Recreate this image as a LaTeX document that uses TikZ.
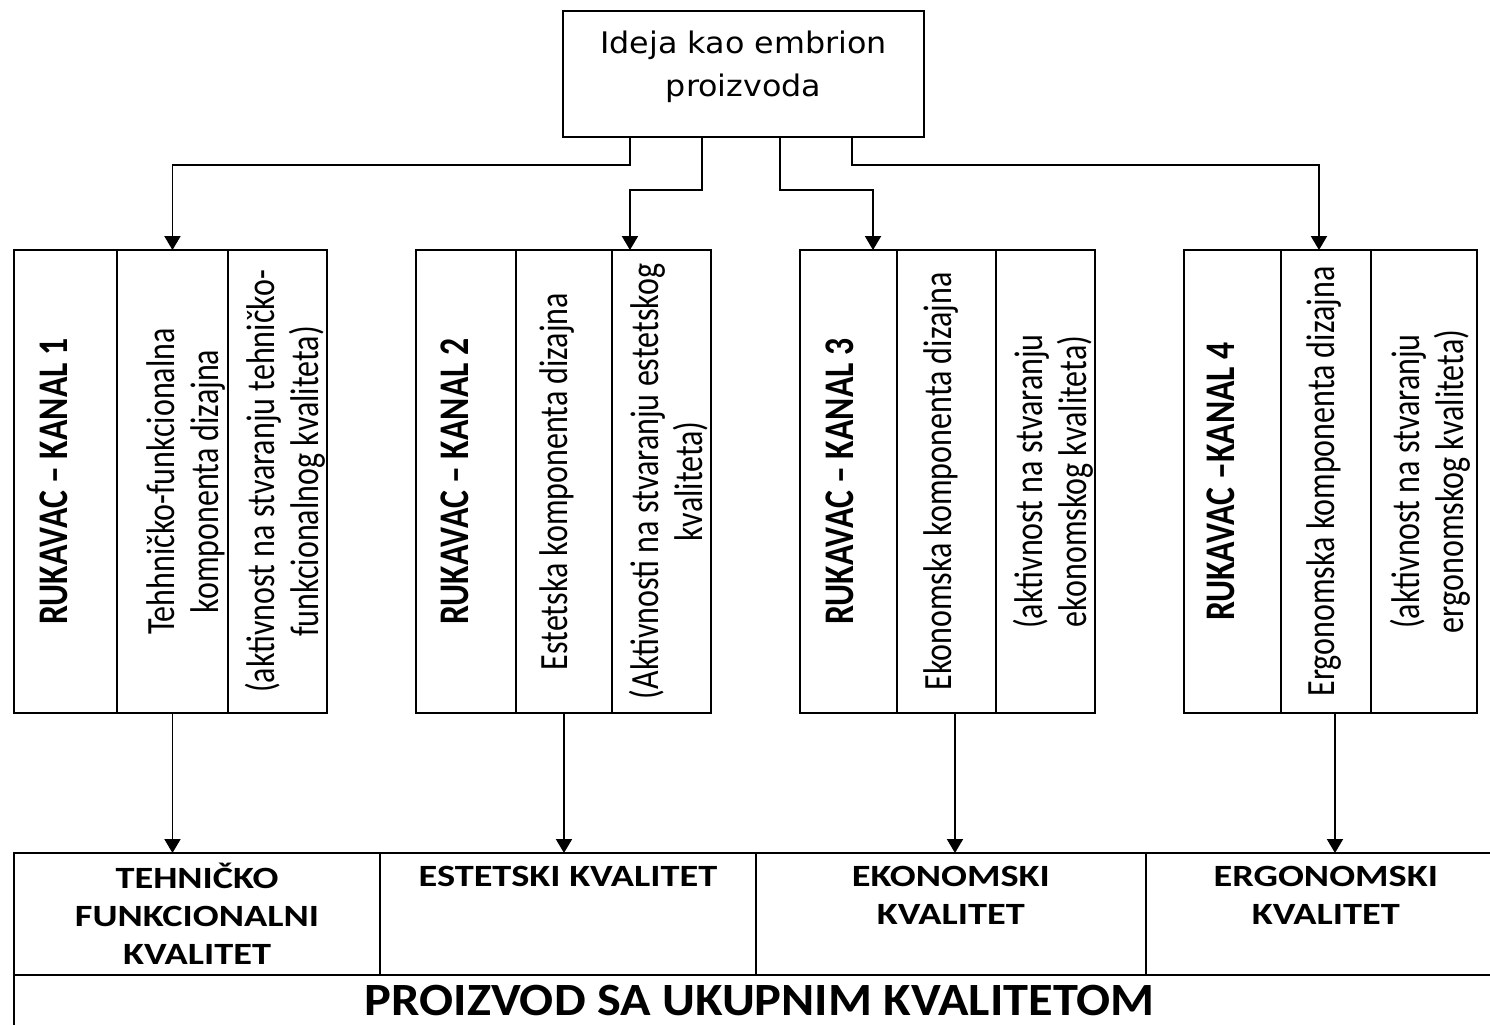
\documentclass[tikz,border=0pt]{standalone}
\usepackage{fontspec}
\usepackage{graphicx}
\setmainfont{Carlito}
\newfontfamily\topfont{DejaVu Sans}[FakeStretch=1.07]
\newfontfamily\qfont{Carlito}[FakeStretch=1.24]
\newfontfamily\bigfont{Carlito}[FakeStretch=1.09]
\newfontfamily\vfont{Carlito}[FakeStretch=0.8]
\usetikzlibrary{positioning,calc,arrows.meta}
\newcommand{\vtext}[2][0pt]{\makebox[0pt]{\hspace*{#1}\rotatebox{90}{\begin{tabular}{@{}c@{}}#2\end{tabular}}}}

\begin{document}
\begin{tikzpicture}[x=0.02cm, y=-0.02cm,
line width=1.1pt,
every node/.style={outer sep=0pt},
idea/.style={rectangle, draw, minimum width=7.22cm, minimum height=2.52cm, align=center, font={\topfont\fontsize{16.9pt}{24.4pt}\selectfont}},
cell/.style={rectangle, draw, minimum height=9.26cm, inner sep=0pt, font={\vfont\fontsize{22.8pt}{25pt}\selectfont}},
chan/.style={cell, font={\vfont\bfseries\fontsize{24pt}{25pt}\selectfont}},
quality/.style={rectangle, draw, minimum height=2.44cm, align=center, font={\qfont\bfseries\fontsize{17.6pt}{21.7pt}\selectfont}},
total/.style={rectangle, draw, minimum width=29.84cm, minimum height=1.2cm, align=center, font={\bigfont\bfseries\fontsize{26.3pt}{30pt}\selectfont}},
link/.style={-{Triangle[length=0.28cm, width=0.32cm]}}
]
\useasboundingbox (0,0) rectangle (1490,1024);
\clip (0,0) rectangle (1490,1024);

\node [idea] (idea) at (743.5,74) {Ideja kao embrion\\proizvoda\\[-13pt]\mbox{}};

\node [chan, minimum width=2.06cm] (k1a) at (65.5,481.5) {\vtext[-0.26cm]{RUKAVAC – KANAL 1}};
\node [cell, minimum width=2.22cm] (k1b) [right=0pt of k1a] {\vtext[0.6cm]{Tehhničko-funkcionalna\\komponenta dizajna}};
\node [cell, minimum width=1.98cm] (k1c) [right=0pt of k1b] {\vtext[0.42cm]{(aktivnost na stvaranju tehničko-\\funkcionalnog kvaliteta)}};

\node [chan, minimum width=2.0cm] (k2a) at (466,481.5) {\vtext[-0.26cm]{RUKAVAC – KANAL 2}};
\node [cell, minimum width=1.92cm] (k2b) [right=0pt of k2a] {\vtext[-0.2cm]{Estetska komponenta dizajna}};
\node [cell, minimum width=1.98cm] (k2c) [right=0pt of k2b] {\vtext[0.42cm]{(Aktivnosti na stvaranju estetskog\\kvaliteta)}};

\node [chan, minimum width=1.94cm] (k3a) at (848.5,481.5) {\vtext[-0.14cm]{RUKAVAC – KANAL 3}};
\node [cell, minimum width=1.98cm] (k3b) [right=0pt of k3a] {\vtext[-0.14cm]{Ekonomska komponenta dizajna}};
\node [cell, minimum width=1.98cm] (k3c) [right=0pt of k3b] {\vtext[0.42cm]{(aktivnost na stvaranju\\ekonomskog kvaliteta)}};

\node [chan, minimum width=1.94cm] (k4a) at (1232.5,481.5) {\vtext[-0.26cm]{RUKAVAC –KANAL 4}};
\node [cell, minimum width=1.8cm] (k4b) [right=0pt of k4a] {\vtext{Ergonomska komponenta dizajna}};
\node [cell, minimum width=2.12cm] (k4c) [right=0pt of k4b] {\vtext[0.36cm]{(aktivnost na stvaranju\\ergonomskog kvaliteta)}};

\node [quality, minimum width=7.32cm] (q1) at (197,914) {TEHNIČKO\\FUNKCIONALNI\\KVALITET};
\node [quality, minimum width=7.52cm] (q2) [right=0pt of q1] {ESTETSKI KVALITET\\\mbox{}\\\mbox{}};
\node [quality, minimum width=7.8cm] (q3) [right=0pt of q2] {EKONOMSKI\\KVALITET\\\mbox{}};
\node [quality, minimum width=7.2cm] (q4) [right=0pt of q3] {ERGONOMSKI\\KVALITET\\\mbox{}};

\node [total, anchor=north west] (total) at (q1.south west) {PROIZVOD SA UKUPNIM KVALITETOM\\[-24.3pt]\mbox{}};

\draw [link] ($(idea.south)+(-113.5,0)$) -- ++(0,28) -| (k1b.north);
\draw [link] ($(idea.south)+(-41.5,0)$) -- ++(0,53) -| ($(k2c.north)+(-31.5,0)$);
\draw [link] ($(idea.south)+(36.5,0)$) -- ++(0,53) -| ($(k3a.north)+(24.5,0)$);
\draw [link] ($(idea.south)+(108.5,0)$) -- ++(0,28) -| ($(k4b.north)+(-7,0)$);

\draw [link] (k1b.south) -- (k1b.south |- q1.north);
\draw [link] (k2b.south) -- (k2b.south |- q2.north);
\draw [link] ($(k3b.south)+(8.5,0)$) coordinate (d3) -- (d3 |- q3.north);
\draw [link] ($(k4b.south)+(9,0)$) coordinate (d4) -- (d4 |- q4.north);

\end{tikzpicture}
\end{document}
